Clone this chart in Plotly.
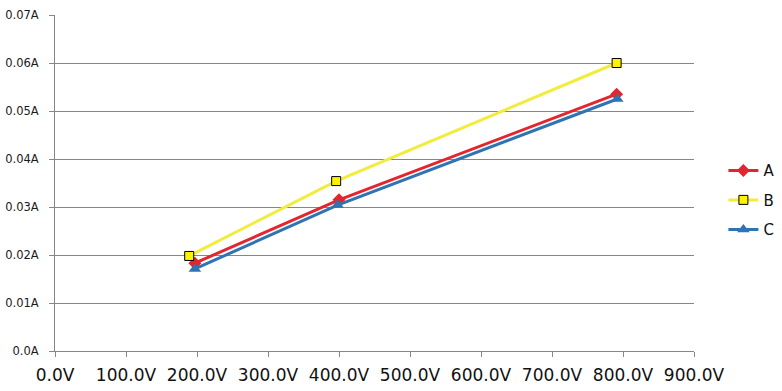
import plotly.graph_objects as go

voltage_A = [197, 400, 791]
current_A = [0.0183, 0.0315, 0.0535]
voltage_B = [189, 396, 791]
current_B = [0.0198, 0.0354, 0.0600]
voltage_C = [197, 398, 792]
current_C = [0.0171, 0.0304, 0.0525]

x_ticks = [0, 100, 200, 300, 400, 500, 600, 700, 800, 900]
x_labels = [f"{v:.1f}V" for v in x_ticks]
y_ticks = [0, 0.01, 0.02, 0.03, 0.04, 0.05, 0.06, 0.07]
y_labels = ["0.0A", "0.01A", "0.02A", "0.03A", "0.04A", "0.05A", "0.06A", "0.07A"]

fig = go.Figure()
fig.add_trace(go.Scatter(x=voltage_A, y=current_A, name="A", mode="lines+markers",
                         line=dict(color="#E3262D", width=3), legendgroup="a",
                         marker=dict(symbol="diamond", size=10, color="#E3262D")))
fig.add_trace(go.Scatter(x=voltage_B, y=current_B, name="B", mode="lines+markers",
                         line=dict(color="#F2EC3C", width=3), legendgroup="b",
                         marker=dict(symbol="square", size=9, color="#FFF200",
                                     line=dict(color="#000000", width=1))))
fig.add_trace(go.Scatter(x=voltage_C, y=current_C, name="C", mode="lines+markers",
                         line=dict(color="#2E74B5", width=3), legendgroup="c",
                         marker=dict(symbol="triangle-up", size=11, color="#2E74B5")))

font_family = "DejaVu Sans, Arial"
fig.update_layout(
    width=782, height=391,
    margin=dict(l=55, r=88, t=15, b=40, autoexpand=False),
    paper_bgcolor="white", plot_bgcolor="white",
    font=dict(family=font_family, color="#1a1a1a"),
    legend=dict(x=1.046, y=0.449, xanchor="left", yanchor="middle",
                font=dict(size=15, color="#111111"), traceorder="grouped",
                tracegroupgap=7, itemwidth=30, bgcolor="rgba(0,0,0,0)"),
    xaxis=dict(range=[0, 900], tickvals=x_ticks, ticktext=x_labels, automargin=False,
               showgrid=False, showline=True, linecolor="#868686", linewidth=1,
               ticks="outside", ticklen=5, tickcolor="#868686", ticklabelstandoff=4,
               tickfont=dict(size=17, color="#111111"), zeroline=False),
    yaxis=dict(range=[0, 0.07], tickvals=y_ticks, ticktext=y_labels, automargin=False,
               showgrid=True, gridcolor="#868686", gridwidth=1,
               showline=True, linecolor="#868686", linewidth=1,
               ticks="outside", ticklen=5, tickcolor="#868686", ticklabelstandoff=8,
               tickfont=dict(size=11.5, color="#1a1a1a"), zeroline=False),
)

fig.write_html("out.html", config={"displayModeBar": False},
               post_script="document.body.style.margin='0px';")
